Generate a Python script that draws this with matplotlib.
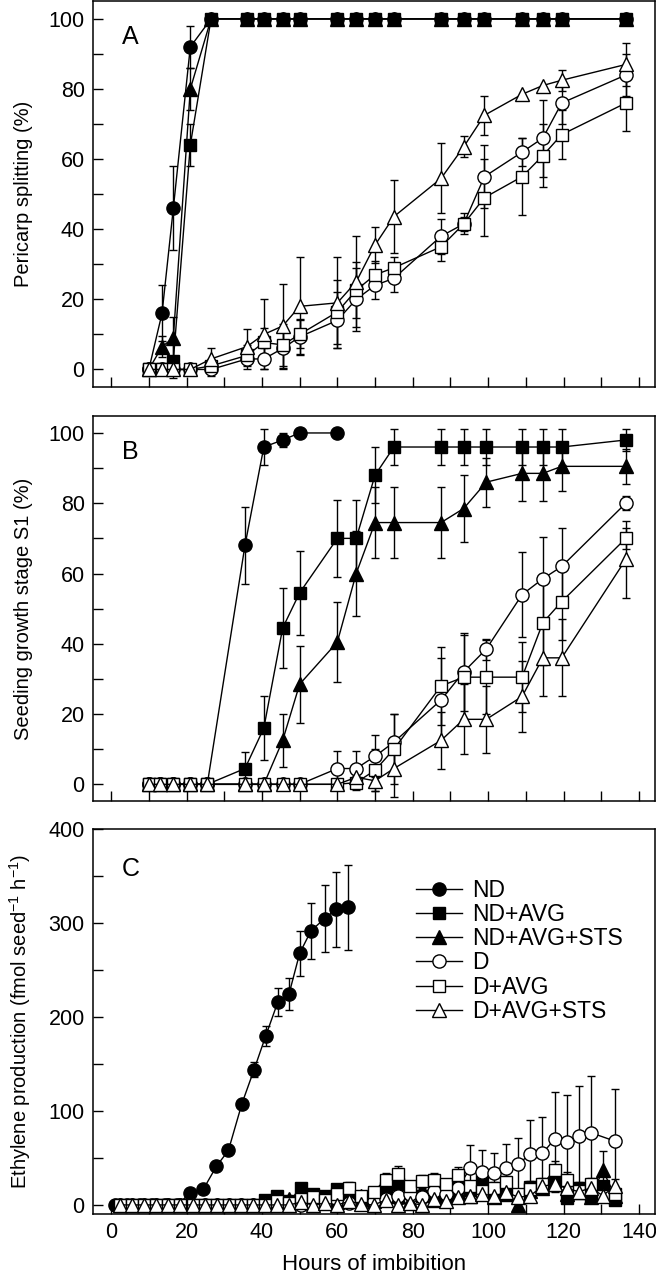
import numpy as np
import matplotlib
matplotlib.use("Agg")
import matplotlib.pyplot as plt
from matplotlib.ticker import MultipleLocator

plt.rcParams['font.family'] = ['Liberation Sans', 'DejaVu Sans']
plt.rcParams['mathtext.fontset'] = 'custom'
plt.rcParams['mathtext.rm'] = 'Liberation Sans'
plt.rcParams['mathtext.default'] = 'rm'

LABELS = ['ND', 'ND+AVG', 'ND+AVG+STS', 'D', 'D+AVG', 'D+AVG+STS']

# ---- panel A: pericarp splitting (%)
A_T = [10, 13.5, 16.5, 21, 26.5, 36, 40.5, 45.5, 50, 60, 65, 70, 75, 87.5, 93.5, 99, 109, 114.5, 119.5, 136.5]
A_ND = [0, 16, 46, 92, 100, 100, 100, 100, 100, 100, 100, 100, 100, 100, 100, 100, 100, 100, 100, 100]
A_ND_ERR = [0, 8, 12, 6, 0, 0, 0, 0, 0, 0, 0, 0, 0, 0, 0, 0, 0, 0, 0, 0]
A_NDA = [0, 0, 2.5, 64, 100, 100, 100, 100, 100, 100, 100, 100, 100, 100, 100, 100, 100, 100, 100, 100]
A_NDA_ERR = [0, 0, 5, 6, 0, 0, 0, 0, 0, 0, 0, 0, 0, 0, 0, 0, 0, 0, 0, 0]
A_NDAS = [0, 6.5, 9, 80, 100, 100, 100, 100, 100, 100, 100, 100, 100, 100, 100, 100, 100, 100, 100, 100]
A_NDAS_ERR = [0, 3, 6, 6, 0, 0, 0, 0, 0, 0, 0, 0, 0, 0, 0, 0, 0, 0, 0, 0]
A_D = [0, 0, 0, 0, 0, 3, 3, 6, 9.3, 14, 20, 24, 26, 38, 41.5, 55, 62, 66, 76, 84]
A_D_ERR = [0, 0, 0, 0, 2, 3, 3, 6, 5, 8, 9, 4, 4, 5, 3, 9, 4, 11, 6, 6]
A_DA = [0, 0, 0, 0, 1, 4, 7.7, 7, 10, 16.4, 22.6, 27, 29, 35, 41.5, 49, 55, 61, 67, 76]
A_DA_ERR = [0, 0, 0, 0, 2, 3, 4, 6, 4, 9, 8, 4, 3, 4, 2, 11, 11, 9, 7, 8]
A_DAS = [0, 0, 0, 0, 3, 6.5, 10, 12.4, 18, 19, 25, 35.5, 43.6, 54.5, 63.5, 72.5, 78.5, 81, 82.5, 87]
A_DAS_ERR = [0, 0, 0, 0, 3, 5, 10, 12, 14, 13, 13, 5, 10.5, 10, 3, 5.5, 0, 0, 3, 6]

# ---- panel B: seedling growth stage S1 (%)
B_T = [10, 13, 16.5, 21, 25.5, 35.5, 40.5, 45.5, 50, 60, 65, 70, 75, 87.5, 93.5, 99.5, 109, 114.5, 119.5, 136.5]
B_T_ND = [10, 13, 16.5, 21, 25.5, 35.5, 40.5, 45.5, 50, 60]
B_ND = [0, 0, 0, 0, 0, 68, 96, 98, 100, 100]
B_ND_ERR = [0, 0, 0, 0, 0, 11, 5, 2, 0, 0]
B_NDA = [0, 0, 0, 0, 0, 4.5, 16, 44.5, 54.5, 70, 70, 88, 96, 96, 96, 96, 96, 96, 96, 98]
B_NDA_ERR = [0, 0, 0, 0, 0, 4.8, 9, 11.5, 12, 11, 11, 8, 5, 5, 5, 5, 5, 5, 5, 3]
B_NDAS = [0, 0, 0, 0, 0, 0, 0, 12.5, 28.5, 40.5, 60, 74.5, 74.5, 74.5, 78.5, 86, 88.5, 88.5, 90.5, 90.5]
B_NDAS_ERR = [0, 0, 0, 0, 0, 0, 0, 7.5, 11, 11.5, 12, 10, 10, 10, 9.5, 7, 8, 8, 7, 5]
B_D = [0, 0, 0, 0, 0, 0, 0, 0, 0, 4.5, 4.5, 8, 12, 24, 32, 38.5, 54, 58.5, 62, 80]
B_D_ERR = [0, 0, 0, 0, 0, 0, 0, 0, 0, 5, 5, 6, 8, 12, 11, 3, 12, 12, 11, 2]
B_DA = [0, 0, 0, 0, 0, 0, 0, 0, 0, 0, 0.5, 4, 10, 28, 30.5, 30.5, 30.5, 46, 52, 70]
B_DA_ERR = [0, 0, 0, 0, 0, 0, 0, 0, 0, 0, 2, 6, 10, 11, 12, 10.5, 10, 12, 11, 3]
B_DAS = [0, 0, 0, 0, 0, 0, 0, 0, 0, 0, 2, 1, 4.5, 12.5, 18.5, 18.5, 25, 36, 36, 64]
B_DAS_ERR = [0, 0, 0, 0, 0, 0, 0, 0, 0, 0, 2, 3, 8, 8, 10, 9.5, 10, 11, 11, 11]

# ---- panel C: ethylene production
C_T_ND = [1.0, 4.3, 7.6, 10.9, 14.2, 17.6, 21.0, 24.5, 27.9, 31.1, 34.7, 37.9, 41.0, 44.2, 47.2, 50.0, 53.0, 56.6, 59.7, 62.9]
C_ND = [0, 0, 0, 0, 0, 0, 13, 17, 41, 58, 108, 144, 180, 216, 225, 268, 292, 305, 315, 317]
C_ND_ERR = [0, 0, 0, 0, 0, 0, 2, 2, 3, 3, 4, 8, 11, 15, 17, 24, 30, 36, 40, 45]
C_T = [2.4, 5.6, 8.8, 12.0, 15.2, 18.4, 21.6, 24.8, 28.0, 31.2, 34.4, 37.6, 40.8, 44.0,
       47.2, 50.4, 53.6, 56.8, 60.0, 63.2, 66.4, 69.6, 72.8, 76.0, 79.2, 82.4, 85.6, 88.8,
       92.0, 95.2, 98.4, 101.6, 104.8, 108.0, 111.2, 114.4, 117.6, 120.8, 124.0, 127.2, 130.4, 133.6]
Z12 = [0] * 12
C_NDA = Z12 + [5, 9, 4, 18, 12, 10, 17, 8, 5, 12, 18, 22, 14, 9, 11, 7, 19, 16, 26, 14, 12, 9, 19, 20, 25, 7, 18, 9, 20, 5]
C_NDA_ERR = Z12 + [3, 4, 3, 5, 4, 4, 5, 4, 3, 4, 5, 6, 5, 4, 4, 4, 6, 5, 8, 5, 5, 4, 6, 7, 8, 4, 6, 4, 6, 4]
C_NDAS = Z12 + [3, 2, 6, 3, 8, 4, 3, 6, 10, 4, 20, 9, 4, 12, 5, 8, 14, 10, 22, 8, 12, 0, 15, 18, 22, 12, 14, 8, 37, 10]
C_NDAS_ERR = Z12 + [2, 2, 3, 2, 4, 3, 2, 3, 4, 3, 6, 4, 3, 5, 3, 4, 5, 4, 7, 4, 5, 3, 6, 6, 7, 5, 5, 4, 20, 5]
C_D = Z12 + [0, 2, 0, 0, 1, 3, 5, 2, 8, 4, 6, 10, 12, 8, 15, 12, 18, 39, 35, 34, 39, 44, 54, 55, 70, 67, 73, 77, np.nan, 68]
C_D_ERR = Z12 + [2, 3, 2, 2, 3, 3, 4, 3, 5, 4, 4, 6, 6, 5, 7, 6, 8, 25, 23, 21, 26, 27, 36, 39, 50, 50, 54, 60, np.nan, 55]
C_DA = Z12 + [0, 4, 2, 6, 8, 5, 12, 18, 10, 14, 27, 33, 20, 25, 27, 22, 32, 20, 15, 18, 24, 12, 17, 22, 37, 27, 15, 22, 10, 12]
C_DA_ERR = Z12 + [2, 3, 2, 4, 4, 3, 5, 6, 4, 5, 7, 8, 6, 7, 7, 6, 8, 6, 5, 6, 7, 5, 6, 7, 10, 8, 5, 7, 4, 5]
C_DAS = Z12 + [0, 0, 0, 3, 0, 2, 0, 4, 1, 0, 5, 0, 2, 0, 6, 4, 8, 10, 12, 9, 14, 8, 10, 20, 22, 18, 14, 18, 10, 20]
C_DAS_ERR = Z12 + [1, 1, 1, 2, 1, 2, 1, 2, 1, 1, 3, 1, 2, 1, 3, 2, 4, 5, 5, 4, 6, 4, 5, 7, 8, 6, 5, 7, 5, 8]

STYLES = [
    dict(marker='o', mfc='black', ms=9.5),
    dict(marker='s', mfc='black', ms=8.5),
    dict(marker='^', mfc='black', ms=10.5),
    dict(marker='o', mfc='white', ms=9.5),
    dict(marker='s', mfc='white', ms=8.5),
    dict(marker='^', mfc='white', ms=10.5),
]


def draw_series(ax, t, y, err, style, label):
    t = np.asarray(t, float)
    y = np.asarray(y, float)
    err = np.asarray(err, float)
    m = ~np.isnan(y)
    t, y, err = t[m], y[m], err[m]
    e = err > 0
    if e.any():
        ax.errorbar(t[e], y[e], yerr=err[e], fmt='none', ecolor='black',
                    elinewidth=1.0, capsize=3, capthick=1.0, zorder=2)
    line, = ax.plot(t, y, color='black', lw=1.0, mec='black', mew=1.0,
                    label=label, zorder=3, **style)
    return line


def style_axes(ax, ylim, ymaj, ymin, xlabels):
    ax.set_xlim(-4.8, 144.3)
    ax.set_ylim(*ylim)
    ax.xaxis.set_major_locator(MultipleLocator(20))
    ax.xaxis.set_minor_locator(MultipleLocator(10))
    ax.yaxis.set_major_locator(MultipleLocator(ymaj))
    ax.yaxis.set_minor_locator(MultipleLocator(ymin))
    ax.tick_params(which='both', direction='in', top=False, right=False,
                   length=7.5, width=1.0, labelsize=15.5, pad=6)
    if not xlabels:
        ax.tick_params(axis='x', labelbottom=False)
    for s in ax.spines.values():
        s.set_linewidth(1.1)


fig = plt.figure(figsize=(6.56, 12.8), dpi=100)
axA = fig.add_axes([0.1418, 0.6974, 0.857, 0.3018])
axB = fig.add_axes([0.1418, 0.3742, 0.857, 0.3010])
axC = fig.add_axes([0.1418, 0.0516, 0.857, 0.3004])

# panel A
a_data = [(A_ND, A_ND_ERR), (A_NDA, A_NDA_ERR), (A_NDAS, A_NDAS_ERR),
          (A_D, A_D_ERR), (A_DA, A_DA_ERR), (A_DAS, A_DAS_ERR)]
for (y, e), st, lab in zip(a_data, STYLES, LABELS):
    draw_series(axA, A_T, y, e, st, lab)
style_axes(axA, (-5.1, 105.1), 20, 10, False)

# panel B
b_data = [(B_T_ND, B_ND, B_ND_ERR), (B_T, B_NDA, B_NDA_ERR), (B_T, B_NDAS, B_NDAS_ERR),
          (B_T, B_D, B_D_ERR), (B_T, B_DA, B_DA_ERR), (B_T, B_DAS, B_DAS_ERR)]
for (t, y, e), st, lab in zip(b_data, STYLES, LABELS):
    draw_series(axB, t, y, e, st, lab)
style_axes(axB, (-4.75, 104.9), 20, 10, False)

# panel C
c_data = [(C_T_ND, C_ND, C_ND_ERR), (C_T, C_NDA, C_NDA_ERR), (C_T, C_NDAS, C_NDAS_ERR),
          (C_T, C_D, C_D_ERR), (C_T, C_DA, C_DA_ERR), (C_T, C_DAS, C_DAS_ERR)]
handles = []
for (t, y, e), st, lab in zip(c_data, STYLES, LABELS):
    handles.append(draw_series(axC, t, y, e, st, lab))
style_axes(axC, (-9.6, 400), 100, 50, True)

axA.set_ylabel('Pericarp splitting (%)', fontsize=14.5)
axB.set_ylabel('Seeding growth stage S1 (%)', fontsize=14.5)
axC.set_ylabel('Ethylene production (fmol seed$^{-1}$ h$^{-1}$)', fontsize=14.5)
for ax in (axA, axB, axC):
    ax.yaxis.set_label_coords(-0.107, 0.5)
axC.set_xlabel('Hours of imbibition', fontsize=16, labelpad=8)

axA.text(0.051, 0.907, 'A', transform=axA.transAxes, fontsize=18, va='center', ha='left')
axB.text(0.051, 0.907, 'B', transform=axB.transAxes, fontsize=18, va='center', ha='left')
axC.text(0.051, 0.896, 'C', transform=axC.transAxes, fontsize=18, va='center', ha='left')

axC.legend(handles=handles, loc='upper left', bbox_to_anchor=(0.558, 0.895),
           frameon=False, fontsize=16.5, handlelength=2.0, handletextpad=0.45,
           labelspacing=0.05, borderaxespad=0)

fig.savefig('out.png', dpi=100)
